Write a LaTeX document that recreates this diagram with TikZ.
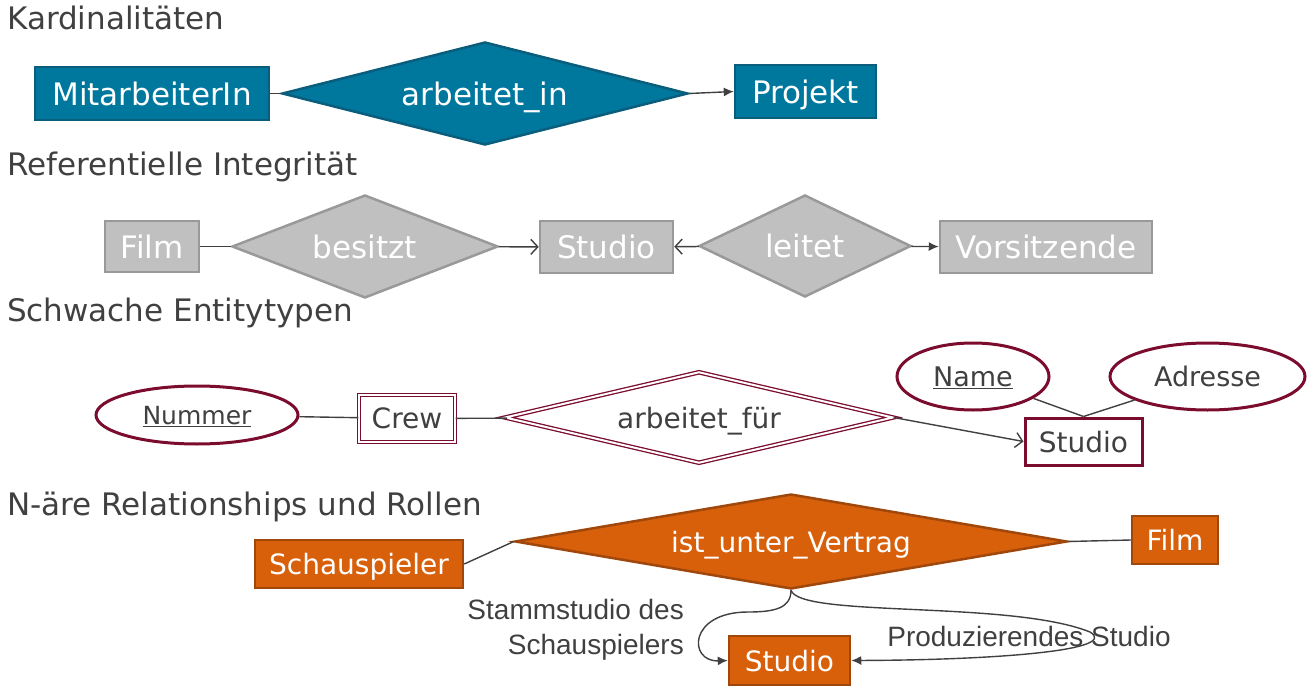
\documentclass[tikz,border=0pt]{standalone}
\usepackage{fontspec}
\setmainfont{DejaVu Sans}
\newfontfamily\labelfont{Liberation Sans}
\usetikzlibrary{arrows.meta,shapes.geometric}
\definecolor{titlegray}{HTML}{404040}
\definecolor{linegray}{HTML}{404040}
\definecolor{tealfill}{HTML}{00789E}
\definecolor{tealline}{HTML}{0A5E7C}
\definecolor{grayfill}{HTML}{C0C0C0}
\definecolor{grayline}{HTML}{999999}
\definecolor{maroon}{HTML}{7B0C2E}
\definecolor{orangefill}{HTML}{D9600B}
\definecolor{orangeline}{HTML}{A0470C}

\begin{document}
\begin{tikzpicture}[x=1pt,y=-1pt,
    ent/.style={draw,rectangle,inner sep=0pt,line width=2.5pt,text depth=0pt},
    rel/.style={draw,diamond,inner sep=0pt,line width=2.5pt,text depth=0pt},
    attr/.style={draw=maroon,ellipse,inner sep=0pt,line width=3pt,fill=white,text=titlegray,text depth=0pt},
    kard/.style={fill=tealfill,draw=tealline,text=white,font=\fontsize{31}{36}\selectfont},
    refi/.style={fill=grayfill,draw=grayline,text=white,font=\fontsize{31}{36}\selectfont},
    schw/.style={fill=white,draw=maroon,text=titlegray,font=\fontsize{28}{33}\selectfont},
    nare/.style={fill=orangefill,draw=orangeline,text=white,font=\fontsize{28}{33}\selectfont},
    dbl/.style={double=white,double distance=2pt,line width=1.3pt},
    title/.style={anchor=base west,inner sep=0pt,text=titlegray,font=\fontsize{31}{36}\selectfont},
    conn/.style={draw=linegray,line width=1.4pt},
    arr/.style={-{Latex[length=10pt,width=9pt]}},
    opn/.style={-{Straight Barb[length=7pt,width=15pt,line width=1.4pt]}},
    lbl/.style={inner sep=0pt,text=titlegray,font=\labelfont\fontsize{28}{35}\selectfont}]
  \useasboundingbox (0,0) rectangle (1310,693);

  \node[title] (t1) at (7,30) {Kardinalitäten};
  \node[title] (t2) at (7,175) {Referentielle Integrität};
  \node[title] (t3) at (7,321) {Schwache Entitytypen};
  \node[title] (t4) at (7,515) {N-äre Relationships und Rollen};

  \node[ent,kard,minimum width=234pt,minimum height=53pt] (mit) at (152,93.5) {MitarbeiterIn};
  \node[rel,kard,aspect=3.94,minimum width=406pt,minimum height=103pt] (ain) at (485,93.5) {arbeitet\_in};
  \node[ent,kard,minimum width=141pt,minimum height=53pt] (proj) at (805.5,91.5) {Projekt};
  \draw[conn] (mit) -- (ain);
  \draw[conn,arr] (ain.east) -- (proj.west);

  \node[ent,refi,minimum width=94pt,minimum height=51pt] (film) at (152,246.5) {Film};
  \node[rel,refi,aspect=2.58,minimum width=266pt,minimum height=103pt] (bes) at (365,246.5) {besitzt};
  \node[ent,refi,minimum width=133pt,minimum height=52pt] (stud) at (606.5,247) {Studio};
  \node[rel,refi,aspect=2.08,minimum width=212pt,minimum height=102pt] (leit) at (805,246) {leitet};
  \node[ent,refi,minimum width=212pt,minimum height=52pt] (vors) at (1046,247) {Vorsitzende};
  \draw[conn] (film) -- (bes);
  \draw[conn,opn] (bes) -- (stud);
  \draw[conn,opn] (leit) -- (stud);
  \draw[conn,arr] (leit) -- (vors);

  \node[attr,minimum width=202pt,minimum height=58pt,font=\fontsize{25}{30}\selectfont] (num) at (197,415) {\underline{Nummer}};
  \node[ent,schw,dbl,minimum width=96pt,minimum height=47pt] (crew) at (407,418.5) {Crew};
  \node[rel,schw,dbl,aspect=4.26,minimum width=388pt,minimum height=91pt] (afu) at (699,417.5) {arbeitet\_für};
  \node[ent,schw,line width=3pt,minimum width=117pt,minimum height=47pt] (st3) at (1083.5,441.5) {Studio};
  \node[attr,minimum width=152pt,minimum height=67pt,font=\fontsize{27}{32}\selectfont] (name) at (973,376.5) {\underline{Name}};
  \node[attr,minimum width=195pt,minimum height=67pt,font=\fontsize{27}{32}\selectfont] (adr) at (1207.5,376.5) {Adresse};
  \draw[conn] (num) -- (crew);
  \draw[conn] (crew) -- (afu);
  \draw[conn,opn] (afu.east) -- (st3.west);
  \draw[conn] (name) -- (st3.north);
  \draw[conn] (adr) -- (st3.north);

  \node[ent,nare,minimum width=208pt,minimum height=48pt] (schau) at (359,564) {Schauspieler};
  \node[rel,nare,aspect=5.81,minimum width=552pt,minimum height=95pt] (vert) at (791,541.5) {ist\_unter\_Vertrag};
  \node[ent,nare,minimum width=86pt,minimum height=48pt] (film4) at (1175,540) {Film};
  \node[ent,nare,minimum width=121pt,minimum height=49pt] (st4) at (789.5,660.5) {Studio};
  \draw[conn] (schau.east) -- (vert.west);
  \draw[conn] (vert.east) -- (film4.west);
  \draw[conn,arr] (vert.south) .. controls (791,608) and (775,612) .. (748,612)
    .. controls (688,612) and (688,662) .. (st4.west);
  \draw[conn,arr] (vert.south) .. controls (800,618) and (1010,600) .. (1090,632)
    .. controls (1120,650) and (1000,660) .. (st4.east);
  \node[lbl,anchor=east,align=right] (lstamm) at (684,630) {Stammstudio des\\Schauspielers};
  \node[lbl] (lprod) at (1029,636) {Produzierendes Studio};
\end{tikzpicture}
\end{document}
